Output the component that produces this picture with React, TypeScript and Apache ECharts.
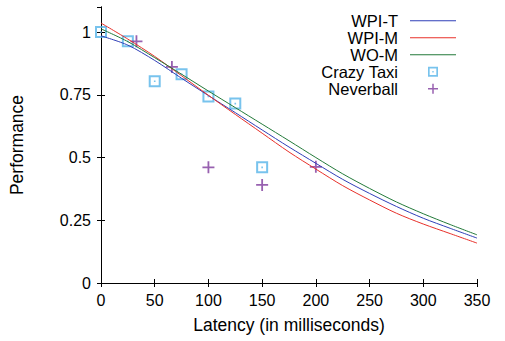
import React, { useEffect, useRef } from "react";
import * as echarts from "echarts";

const latency = [0, 25, 50, 75, 100, 125, 150, 175, 200, 225, 250, 275, 300, 325, 350];
const wpiT = [0.985, 0.948, 0.887, 0.816, 0.747, 0.679, 0.61, 0.542, 0.477, 0.413, 0.357, 0.305, 0.258, 0.218, 0.179];
const wpiM = [1.036, 0.972, 0.903, 0.826, 0.748, 0.672, 0.597, 0.522, 0.454, 0.388, 0.331, 0.278, 0.235, 0.197, 0.159];
const woM = [1.013, 0.962, 0.898, 0.832, 0.765, 0.699, 0.633, 0.567, 0.5, 0.435, 0.377, 0.323, 0.276, 0.233, 0.192];

const crazyTaxiX = [0, 25, 50, 75, 100, 125, 150];
const crazyTaxiY = [1.0, 0.963, 0.804, 0.832, 0.743, 0.715, 0.461];
const neverballX = [33, 66, 100, 150, 200];
const neverballY = [0.963, 0.861, 0.461, 0.391, 0.463];

const xTickValues = [0, 50, 100, 150, 200, 250, 300, 350];
const yTickValues = [0, 0.25, 0.5, 0.75, 1];

const FONT = "'Liberation Sans', Arial, Helvetica, sans-serif";
const BOX_DOT = "path://M0,0H12V12H0Z M2,2V10H10V2Z M5.2,5.2H6.8V6.8H5.2Z";
const PLUS = "path://M5.1,0H6.9V5.1H12V6.9H6.9V12H5.1V6.9H0V5.1H5.1Z";
const LINE_ICON = "path://M0,0H46V1H0Z";

export default function App() {
  const ref = useRef<HTMLDivElement>(null);
  useEffect(() => {
    if (!ref.current) return;
    const chart = echarts.init(ref.current, null, { renderer: "svg" });
    const axisLine = { show: true, lineStyle: { color: "#000", width: 1 } };
    const axisTick = { show: true, inside: true, length: 4, lineStyle: { color: "#000", width: 1 } };
    const xCommon = { type: "value", min: xTickValues[0], max: xTickValues[xTickValues.length - 1], interval: 50, splitLine: { show: false }, axisLine, axisTick };
    const yCommon = { type: "value", min: yTickValues[0], max: 1.1, interval: 0.25, splitLine: { show: false }, axisLine, axisTick };
    const line = (name: string, vals: number[], color: string) => ({
      name,
      type: "line",
      data: latency.map((x, i) => [x, vals[i]]),
      smooth: 0.3,
      symbol: "none",
      lineStyle: { color, width: 1 },
      itemStyle: { color },
    });
    chart.setOption({
      animation: false,
      grid: { left: 101, right: 28, top: 7, bottom: 58, containLabel: false },
      xAxis: [
        {
          ...xCommon,
          position: "bottom",
          axisLabel: { color: "#000", fontSize: 16, fontFamily: FONT, margin: 9 },
          name: "Latency (in milliseconds)",
          nameLocation: "middle",
          nameGap: 33,
          nameTextStyle: { color: "#000", fontSize: 17.5, fontFamily: FONT },
        },
        { ...xCommon, position: "top", axisLabel: { show: false } },
      ],
      yAxis: [
        {
          ...yCommon,
          position: "left",
          axisLabel: { color: "#000", fontSize: 16, fontFamily: FONT, margin: 10, showMaxLabel: false },
          name: "Performance",
          nameLocation: "middle",
          nameGap: 75,
          nameTextStyle: { color: "#000", fontSize: 17.5, fontFamily: FONT },
        },
        { ...yCommon, position: "right", axisLabel: { show: false } },
      ],
      legend: {
        orient: "vertical",
        align: "right",
        right: 49,
        top: 12,
        padding: 0,
        itemWidth: 46,
        itemHeight: 10,
        itemGap: -0.5,
        selectedMode: false,
        textStyle: { color: "#000", fontSize: 16.5, lineHeight: 17.5, fontFamily: FONT, padding: [0, 7, 0, 0] },
        data: [
          { name: "WPI-T", icon: LINE_ICON },
          { name: "WPI-M", icon: LINE_ICON },
          { name: "WO-M", icon: LINE_ICON },
          "Crazy Taxi",
          "Neverball",
        ],
      },
      series: [
        line("WPI-T", wpiT, "#2f3fb8"),
        line("WPI-M", wpiM, "#e8302a"),
        line("WO-M", woM, "#237a3a"),
        {
          name: "Crazy Taxi",
          type: "scatter",
          symbol: BOX_DOT,
          symbolSize: 12,
          itemStyle: { color: "#56b4e9" },
          data: crazyTaxiX.map((x, i) => [x, crazyTaxiY[i]]),
        },
        {
          name: "Neverball",
          type: "scatter",
          symbol: PLUS,
          symbolSize: 12,
          itemStyle: { color: "#7e3a9c" },
          data: neverballX.map((x, i) => [x, neverballY[i]]),
        },
      ],
    });
    return () => chart.dispose();
  }, []);
  return <div ref={ref} style={{ position: "fixed", left: 0, top: 0, width: 505, height: 341, background: "#fff" }} />;
}
